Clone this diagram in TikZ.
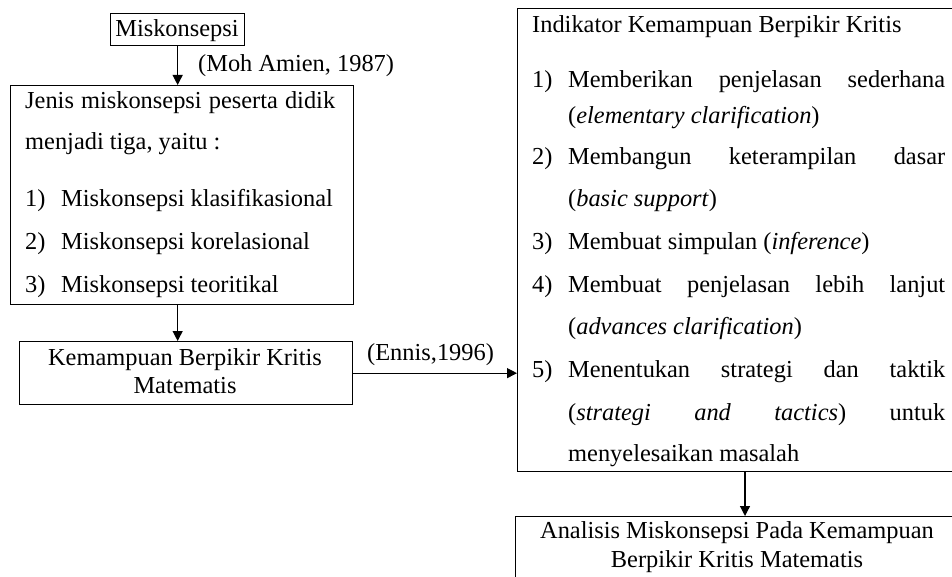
\documentclass[tikz,border=0pt]{standalone}
\usepackage{fontspec}
\setmainfont{Liberation Serif}
\usetikzlibrary{arrows.meta}
\begin{document}
\begin{tikzpicture}[x=1pt,y=-1pt,
  box/.style={draw=black, line width=1.3pt, inner sep=0pt, anchor=north west},
  txt/.style={font=\fontsize{24.4}{28}\selectfont, inner sep=0pt, text=black},
  arr/.style={draw=black, line width=1.2pt, -{Triangle[length=10pt,width=10pt]}}]
\useasboundingbox (0,0) rectangle (952,577);
\clip (0,0) rectangle (952,577);
\fill[white] (0,0) rectangle (952,577);

% boxes
\node[box, minimum width=134pt, minimum height=32pt] (misk) at (110,13) {};
\node[box, minimum width=343pt, minimum height=219pt] (jenis) at (10,85) {};
\node[box, minimum width=333pt, minimum height=63pt] (kem) at (19,341) {};
\node[box, minimum width=443pt, minimum height=463pt] (ind) at (517,8) {};
\node[box, minimum width=445pt, minimum height=100pt] (ana) at (515,516) {};
\coordinate (ax) at (745,0);

% connectors
\draw[arr] (misk.south) -- (misk.south |- jenis.north);
\draw[arr] (jenis.south -| misk.south) -- (kem.north -| misk.south);
\draw[arr] (kem.east) -- (kem.east -| ind.west);
\draw[arr] (ind.south -| ax) -- (ana.north -| ax);

% labels
\node[txt, anchor=base] (tmisk) at (177,37) {Miskonsepsi};
\node[txt, anchor=base west] (lmoh) at (198,72) {(Moh Amien, 1987)};
\node[txt, anchor=base west] (lenn) at (367,360) {(Ennis,1996)};

% left box text
\node[txt, anchor=base west] (j1) at (25,109) {\makebox[310pt][s]{Jenis miskonsepsi peserta didik}};
\node[txt, anchor=base west] (j2) at (25,150) {menjadi tiga, yaitu :};
\node[txt, anchor=base west] (j3n) at (25,207) {1)};
\node[txt, anchor=base west] (j3) at (61,207) {Miskonsepsi klasifikasional};
\node[txt, anchor=base west] (j4n) at (25,250) {2)};
\node[txt, anchor=base west] (j4) at (61,250) {Miskonsepsi korelasional};
\node[txt, anchor=base west] (j5n) at (25,292) {3)};
\node[txt, anchor=base west] (j5) at (61,292) {Miskonsepsi teoritikal};

% kemampuan text
\node[txt, anchor=base] (k1) at (185,365) {Kemampuan Berpikir Kritis};
\node[txt, anchor=base] (k2) at (185,393) {Matematis};

% right box text
\node[txt, anchor=base west] (i0) at (532,33) {Indikator Kemampuan Berpikir Kritis};
\node[txt, anchor=base west] (i1n) at (532,88) {1)};
\node[txt, anchor=base west] (i1) at (568,88) {\makebox[377pt][s]{Memberikan penjelasan sederhana}};
\node[txt, anchor=base west] (i1b) at (568,124) {(\textit{elementary clarification})};
\node[txt, anchor=base west] (i2n) at (532,165) {2)};
\node[txt, anchor=base west] (i2) at (568,165) {\makebox[377pt][s]{Membangun keterampilan dasar}};
\node[txt, anchor=base west] (i2b) at (568,207) {(\textit{basic support})};
\node[txt, anchor=base west] (i3n) at (532,250) {3)};
\node[txt, anchor=base west] (i3) at (568,250) {Membuat simpulan (\textit{inference})};
\node[txt, anchor=base west] (i4n) at (532,292) {4)};
\node[txt, anchor=base west] (i4) at (568,292) {\makebox[377pt][s]{Membuat penjelasan lebih lanjut}};
\node[txt, anchor=base west] (i4b) at (568,334) {(\textit{advances clarification})};
\node[txt, anchor=base west] (i5n) at (532,377) {5)};
\node[txt, anchor=base west] (i5) at (568,377) {\makebox[377pt][s]{Menentukan strategi dan taktik}};
\node[txt, anchor=base west] (i5b) at (568,420) {\makebox[377pt][s]{(\textit{strategi} \textit{and} \textit{tactics}) untuk}};
\node[txt, anchor=base west] (i5c) at (568,461) {menyelesaikan masalah};

% bottom box text
\node[txt, anchor=base] (a1) at (737,538) {Analisis Miskonsepsi Pada Kemampuan};
\node[txt, anchor=base] (a2) at (737,567) {Berpikir Kritis Matematis};
\end{tikzpicture}
\end{document}
